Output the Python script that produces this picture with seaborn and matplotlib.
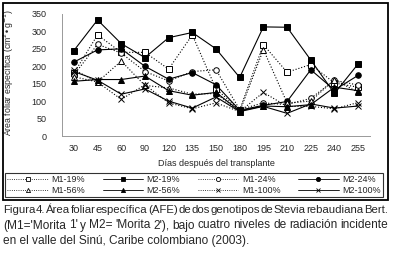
import numpy as np
import pandas as pd
import seaborn as sns
import matplotlib.pyplot as plt
from matplotlib.patches import Rectangle
from matplotlib.lines import Line2D

# days after transplant (categories)
days = ['30', '45', '60', '90', '120', '135', '150', '180', '195', '210', '225', '240', '255']

# specific leaf area (cm2/g)
m1_19 = [180, 290, 240, 240, 192, 290, 135, 75, 262, 183, 205, 152, 140]
m2_19 = [245, 333, 265, 225, 282, 297, 250, 168, 313, 312, 218, 122, 207]
m1_24 = [175, 263, 238, 185, 158, 185, 190, 76, 95, 90, 108, 160, 146]
m2_24 = [212, 247, 250, 200, 163, 182, 147, 74, 88, 99, 190, 132, 174]
m1_56 = [170, 155, 215, 145, 138, 120, 122, 70, 248, 95, 100, 162, 125]
m2_56 = [157, 162, 162, 172, 130, 117, 125, 72, 86, 84, 90, 140, 130]
m1_100 = [190, 155, 105, 147, 95, 78, 95, 70, 125, 85, 85, 78, 96]
m2_100 = [185, 160, 120, 135, 100, 80, 112, 70, 85, 65, 92, 80, 86]

series = [
    ('M1-19%', m1_19, 's', 'white', ':'),
    ('M2-19%', m2_19, 's', 'black', '-'),
    ('M1-24%', m1_24, 'o', 'white', ':'),
    ('M2-24%', m2_24, 'o', 'black', '-'),
    ('M1-56%', m1_56, '^', 'white', ':'),
    ('M2-56%', m2_56, '^', 'black', '-'),
    ('M1-100%', m1_100, 'x', 'black', ':'),
    ('M2-100%', m2_100, 'x', 'black', '-'),
]

sns.set_style('white')
plt.rcParams['font.family'] = ['Liberation Sans', 'DejaVu Sans']

fig = plt.figure(figsize=(3.95, 2.69), dpi=100)
ax = fig.add_axes([62 / 395, 1 - 136 / 269, 308 / 395, 122 / 269])

pos = np.arange(len(days))
handles = {}
for name, vals, mk, fc, ls in series:
    df = pd.DataFrame({'pos': pos, 'val': vals})
    sns.lineplot(data=df, x='pos', y='val', ax=ax, color='black',
                 linestyle=ls, linewidth=0.8, marker=mk, markersize=4,
                 markerfacecolor=fc, markeredgecolor='black',
                 markeredgewidth=0.7)
    handles[name] = Line2D([], [], color='black', linestyle=ls, linewidth=0.6,
                           marker=mk, markersize=3, markerfacecolor=fc,
                           markeredgecolor='black', markeredgewidth=0.6)

ax.set_xlim(-0.5, len(days) - 0.5)
ax.set_ylim(0, 350)
ax.set_yticks(range(0, 351, 50))
ax.set_xticks(pos)
ax.set_xticklabels(days)
ax.set_xticks(np.arange(-0.5, len(days)), minor=True)
ax.tick_params(axis='x', which='major', length=0, labelsize=6.5, pad=6)
ax.tick_params(axis='x', which='minor', length=3, color='#999999', width=0.6, direction='out')
ax.tick_params(axis='y', length=3, color='#999999', width=0.6, labelsize=6.5, pad=8, direction='out')
for s in ['top', 'right']:
    ax.spines[s].set_visible(False)
for s in ['left', 'bottom']:
    ax.spines[s].set_color('#999999')
    ax.spines[s].set_linewidth(0.7)
ax.set_xlabel('Días después del transplante', fontsize=6.5, labelpad=4)
ax.set_ylabel('Área foliar específica (cm$^{2}$•g$^{-1}$)', fontsize=6.3, labelpad=4)
ax.yaxis.set_label_coords(-0.15, 0.52)

order = ['M1-19%', 'M1-56%', 'M2-19%', 'M2-56%', 'M1-24%', 'M1-100%', 'M2-24%', 'M2-100%']
leg = fig.legend([handles[n] for n in order], order, ncol=4,
                 loc='lower left', bbox_to_anchor=(5 / 395, 1 - 197 / 269, 378 / 395, 27 / 269),
                 mode='expand', fontsize=6.5, frameon=True, fancybox=False,
                 handlelength=4.5, handletextpad=0.4, borderpad=0.25,
                 labelspacing=0.2, columnspacing=1.0, borderaxespad=0)
leg.get_frame().set_edgecolor('black')
leg.get_frame().set_linewidth(0.8)

fig.add_artist(Rectangle((3 / 395, 1 - 200 / 269), 385 / 395, 197 / 269,
                         transform=fig.transFigure, fill=False,
                         edgecolor='black', linewidth=1.3))

# caption, first two lines justified between x=3 and x=388 px
caption = [
    ('Figura 4. Área foliar específica (AFE) de dos genotipos de Stevia rebaudiana Bert.', True),
    ("(M1='Morita 1' y M2= 'Morita 2'), bajo cuatro niveles de radiación incidente", True),
    ('en el valle del Sinú, Caribe colombiano (2003).', False),
]
cap_font = ['Liberation Sans Narrow', 'Liberation Sans', 'DejaVu Sans']
cap_size = 8.6
x0, x1 = 3, 388
renderer = fig.canvas.get_renderer()
for i, (line, justify) in enumerate(caption):
    y = 1 - (210 + i * 15.5) / 269
    if not justify:
        fig.text(x0 / 395, y, line, fontsize=cap_size, va='center', ha='left', family=cap_font)
        continue
    words = line.split(' ')
    size = cap_size
    while True:
        arts = [fig.text(0, y, w, fontsize=size, va='center', ha='left', family=cap_font)
                for w in words]
        widths = [a.get_window_extent(renderer).width for a in arts]
        gap = (x1 - x0 - sum(widths)) / (len(words) - 1)
        if gap >= 0.4 or size < 6:
            break
        for a in arts:
            a.remove()
        size -= 0.1
    x = x0
    for a, wd in zip(arts, widths):
        a.set_x(x / 395)
        x += wd + gap

fig.savefig('out.png', dpi=100)
